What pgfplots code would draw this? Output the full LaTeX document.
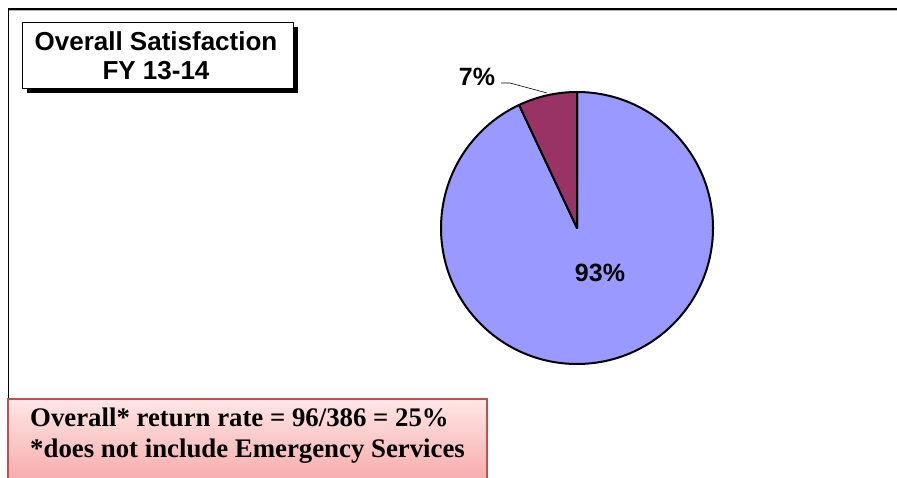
\documentclass[border=0pt]{standalone}
\usepackage{pgfplots}
\usepackage{pgfplotstable}
\pgfplotsset{compat=1.18}
\usepackage{fontspec}
\setmainfont{Liberation Serif}
\newfontfamily\arial{Liberation Sans}

\definecolor{pieblue}{HTML}{9999FF}
\definecolor{pieplum}{HTML}{993366}
\definecolor{notefill top}{HTML}{FFE6E6}
\definecolor{notefill bot}{HTML}{F7ADAD}
\definecolor{noteedge}{HTML}{C0504D}

% shares of the satisfaction pie, in percent
\pgfplotstableread{
group share
Satisfied 93
Other 7
}\satisfaction
\pgfplotstablegetelem{0}{share}\of\satisfaction \let\shareA\pgfplotsretval
\pgfplotstablegetelem{1}{share}\of\satisfaction \let\shareB\pgfplotsretval

\begin{document}
\begin{tikzpicture}
\begin{axis}[
  scale only axis, width=897bp, height=478bp,
  xmin=0, xmax=897, ymin=0, ymax=478,
  hide axis, clip=false,
]
% outer frame (top and left sides)
\draw[gray!60, line width=1bp] (axis cs:9,467.6) -- (axis cs:897,467.6);
\draw[black, line width=1.8bp] (axis cs:8.5,469) -- (axis cs:897,469);
\draw[black, line width=1.4bp] (axis cs:8.5,469.9) -- (axis cs:8.5,79);

% title box with drop shadow
\fill[black] (axis cs:27,385) rectangle (axis cs:298,451);
\filldraw[fill=white, draw=black, line width=0.9bp] (axis cs:22,390) rectangle (axis cs:293,456);
\node[align=center, font=\arial\bfseries\fontsize{26bp}{29.5bp}\selectfont, inner sep=0pt]
  at (axis cs:156,422.5) {Overall Satisfaction\\FY 13-14};

% pie: first slice clockwise from 12 o'clock, second slice counter-clockwise
\filldraw[fill=pieblue, draw=black, line width=2bp, line join=round]
  (axis cs:577,250) -- ++(90:136bp) arc[start angle=90, delta angle=-3.6*\shareA, radius=136bp] -- cycle;
\filldraw[fill=pieplum, draw=black, line width=2bp, line join=round]
  (axis cs:577,250) -- ++(90:136bp) arc[start angle=90, delta angle=3.6*\shareB, radius=136bp] -- cycle;

% slice labels
\node[font=\arial\bfseries\fontsize{25bp}{28bp}\selectfont, inner sep=0pt]
  at (axis cs:600,205) {\shareA\%};
\node[font=\arial\bfseries\fontsize{25bp}{28bp}\selectfont, inner sep=0pt]
  at (axis cs:477,401) {\shareB\%};
\draw[black, line width=0.6bp] (axis cs:501,395) -- (axis cs:510,395) -- (axis cs:547,385);

% return-rate note
\shade[top color=notefill top, bottom color=notefill bot] (axis cs:8,79) rectangle (axis cs:487,0);
\draw[noteedge, line width=1.8bp] (axis cs:8,0) -- (axis cs:8,79) -- (axis cs:487,79) -- (axis cs:487,0);
\node[anchor=base west, font=\bfseries\fontsize{26.8bp}{30bp}\selectfont, inner sep=0pt]
  at (axis cs:30,51) {Overall* return rate = 96/386 = 25\%};
\node[anchor=base west, font=\bfseries\fontsize{26.8bp}{30bp}\selectfont, inner sep=0pt]
  at (axis cs:30,21) {*does not include Emergency Services};
\end{axis}
\pgfresetboundingbox
\useasboundingbox (current axis.south west) rectangle (current axis.north east);
\end{tikzpicture}
\end{document}
